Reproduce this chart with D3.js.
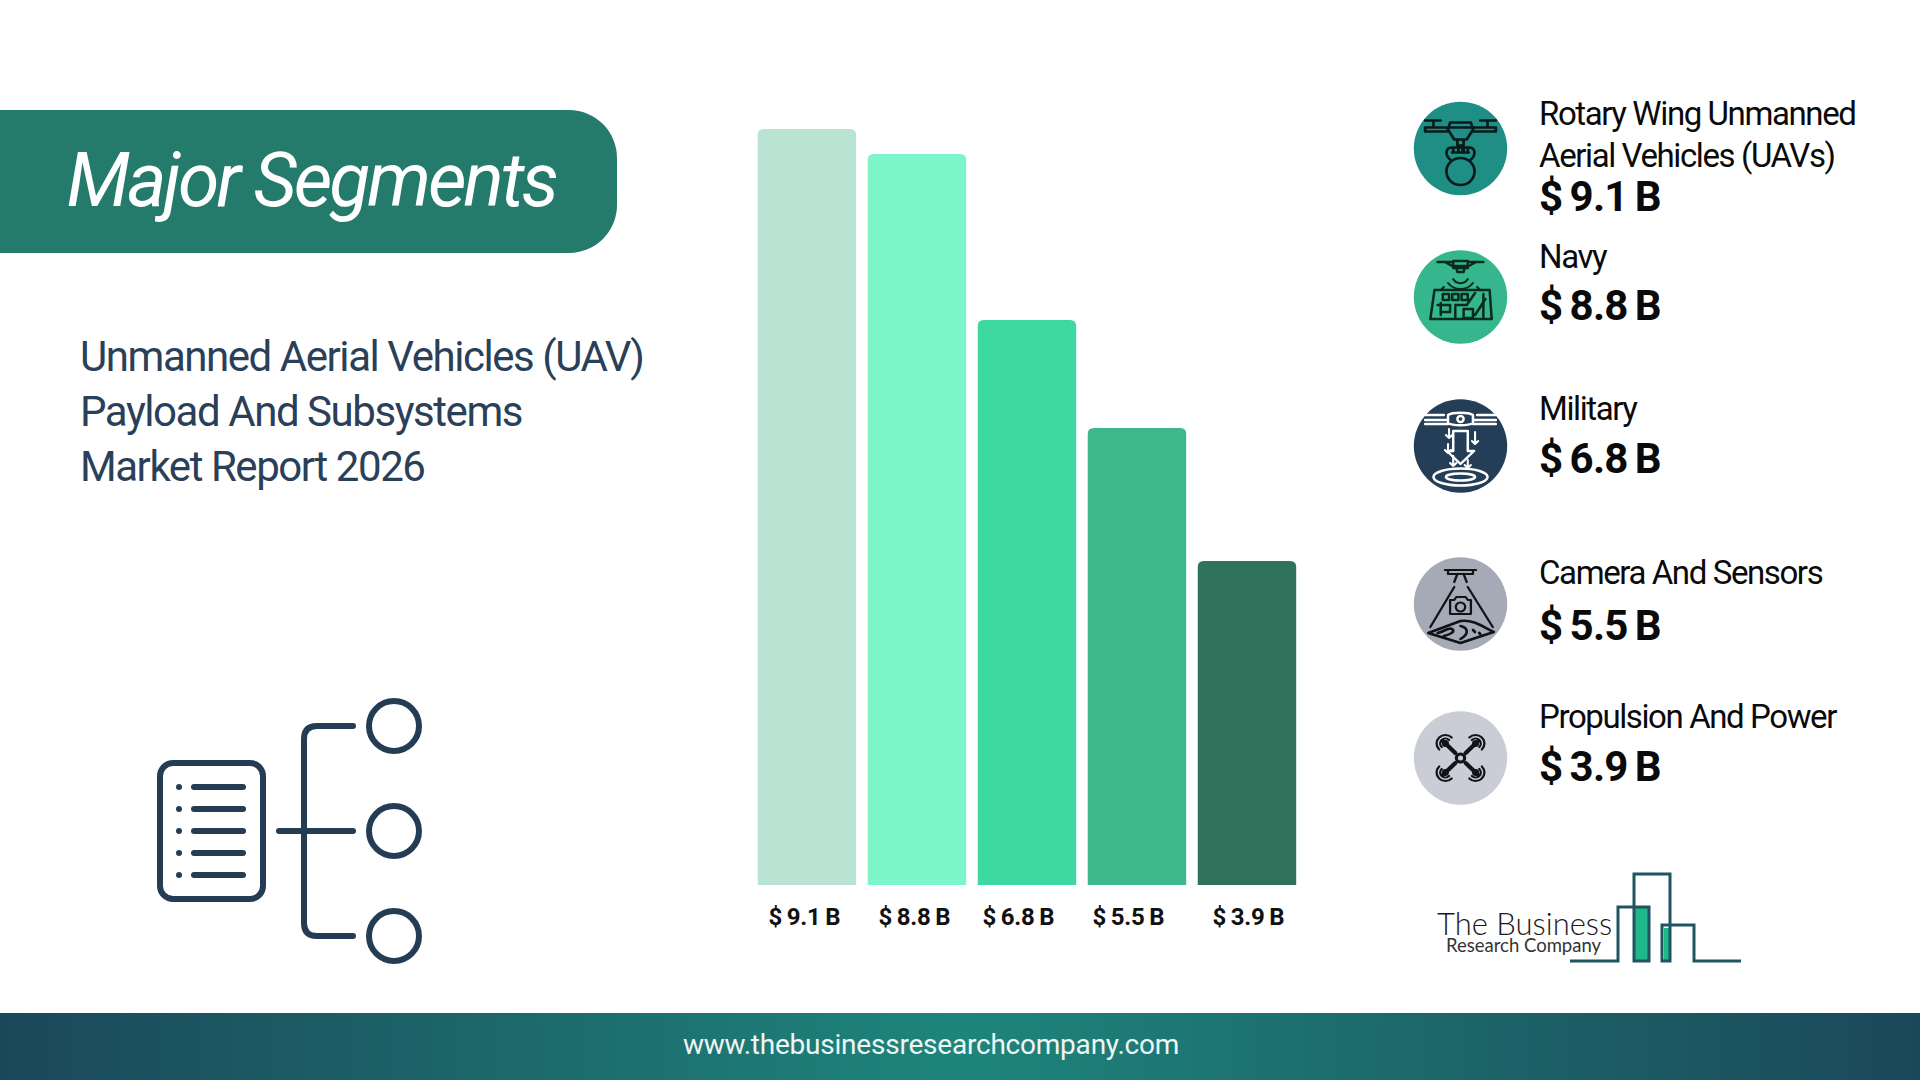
<!DOCTYPE html>
<html><head><meta charset="utf-8">
<script src="https://cdn.jsdelivr.net/npm/d3@7"></script>
<style>html,body{margin:0;padding:0;background:#fff;overflow:hidden}svg{display:block}text{font-family:Roboto,sans-serif}</style>
</head><body><svg id="c" width="1920" height="1080"></svg>
<script>
const categories = ["Rotary Wing Unmanned Aerial Vehicles (UAVs)","Navy","Military","Camera And Sensors","Propulsion And Power"];
const values = [9.1,8.8,6.8,5.5,3.9];
const barColors = ["#b9e4d3","#7cf6c8","#3ed9a0","#3eb78c","#2f735c"];
const iconColors = ["#1f8f86","#35b68d","#253e57","#a6aab6","#cacCd6"];
const labelLines = [["Rotary Wing Unmanned","Aerial Vehicles (UAVs)"],["Navy"],["Military"],["Camera And Sensors"],["Propulsion And Power"]];
const fmt = v => "$ " + v.toFixed(1) + " B";

const svg = d3.select("#c");
const defs = svg.append("defs");
function grad(id, stops, x2=1, y2=0){
  const g = defs.append("linearGradient").attr("id",id).attr("x1",0).attr("y1",0).attr("x2",x2).attr("y2",y2);
  stops.forEach(([o,c])=>g.append("stop").attr("offset",o).attr("stop-color",c));
}
grad("foot",[[0,"#1b4859"],[0.5,"#1e857c"],[1,"#1b4859"]]);

/* header */
const R=48;
svg.append("path").attr("fill","#247a6b")
  .attr("d",`M0 110H${617-R}A${R} ${R} 0 0 1 617 ${110+R}V${253-R}A${R} ${R} 0 0 1 ${617-R} 253H0Z`);
svg.append("text").attr("x",66.5).attr("y",206).attr("fill","#fff").attr("font-size",75).attr("font-style","italic").attr("font-weight",400).attr("letter-spacing",-3).text("Major Segments");

/* subtitle */
["Unmanned Aerial Vehicles (UAV)","Payload And Subsystems","Market Report 2026"].forEach((t,i)=>{
  svg.append("text").attr("x",80).attr("y",371+i*55).attr("fill","#2a4058").attr("font-size",42).attr("letter-spacing",-1.45).text(t);
});

/* footer */
svg.append("rect").attr("x",0).attr("y",1013).attr("width",1920).attr("height",67).attr("fill","url(#foot)");
svg.append("text").attr("x",931).attr("y",1054).attr("text-anchor","middle").attr("fill","#eef5f4").attr("font-size",28).attr("letter-spacing",-0.22).text("www.thebusinessresearchcompany.com");

/* bars */
const x = d3.scaleBand().domain(d3.range(values.length)).range([752.2,1301.7]).paddingInner(0.105).paddingOuter(0.05);
const y = d3.scaleLinear().domain([0,9.1]).range([885,129]);
const rr=6;
svg.append("g").selectAll("path").data(values).join("path")
  .attr("fill",(d,i)=>barColors[i])
  .attr("d",(d,i)=>{const l=x(i),w=x.bandwidth(),t=y(d),b=y(0);return `M${l} ${b}V${t+rr}Q${l} ${t} ${l+rr} ${t}H${l+w-rr}Q${l+w} ${t} ${l+w} ${t+rr}V${b}Z`;});
const labelNudge=[-2.5,-2.5,-8.5,-8.5,1.5];
svg.append("g").selectAll("text").data(values).join("text")
  .attr("x",(d,i)=>x(i)+x.bandwidth()/2+labelNudge[i]).attr("y",925)
  .attr("text-anchor","middle").attr("font-weight",700).attr("font-size",24).attr("fill","#111").attr("letter-spacing",-0.2).attr("word-spacing",-1.2).text(fmt);

/* left icon */
const navy="#243c54";
const li=svg.append("g").attr("fill","none").attr("stroke",navy).attr("stroke-width",6).attr("stroke-linecap","round");
li.append("rect").attr("x",160).attr("y",763).attr("width",103).attr("height",136).attr("rx",13);
[787,809,831,853,875].forEach(v=>{
  li.append("circle").attr("cx",179).attr("cy",v).attr("r",3).attr("fill",navy).attr("stroke","none");
  li.append("line").attr("x1",194).attr("x2",243).attr("y1",v).attr("y2",v);
});
li.append("line").attr("x1",279).attr("x2",353).attr("y1",831).attr("y2",831);
li.append("path").attr("d","M353 726H317Q304 726 304 739V923Q304 936 317 936H353");
[726,831,936].forEach(v=>li.append("circle").attr("cx",394).attr("cy",v).attr("r",25));

/* legend */
const cy=[148.5,297,446,604,758];
const cx=1460.5, tx=1539;
const labY=[[125,167],[268],[420],[584],[728]];
const valY=[210.5,320,473,639.5,780.5];
svg.append("g").selectAll("circle").data(values).join("circle").attr("cx",cx).attr("cy",(d,i)=>cy[i]).attr("r",46.7).attr("fill",(d,i)=>iconColors[i]);
labelLines.forEach((ls,i)=>{
  ls.forEach((t,j)=>svg.append("text").attr("x",tx).attr("y",labY[i][j]).attr("font-size",33).attr("fill","#0a0a0a").attr("letter-spacing",-1.4).text(t));
  svg.append("text").attr("x",tx).attr("y",valY[i]).attr("font-size",42).attr("font-weight",700).attr("fill","#0a0a0a").attr("letter-spacing",-0.75).attr("word-spacing",-2.5).text(fmt(values[i]));
});

/* icons, drawn in local pixels about each circle centre */
function ic(i,color,w=2.4){return svg.append("g").attr("transform",`translate(${cx},${cy[i]}) scale(1.04,1)`).attr("fill","none").attr("stroke",color).attr("stroke-width",w).attr("stroke-linejoin","round").attr("stroke-linecap","round");}
// 0 drone with kettlebell
let g=ic(0,"#0a1a1a",2.6);
g.append("path").attr("d","M-34 -28H-19M19 -28H34M-26 -28V-22M26 -28V-22M-34 -21H-13L-11 -17M34 -21H13L11 -17M-34 -21V-17H-12M34 -21V-17H12M-10 -26H10L12 -19L6 -9H-6L-12 -19ZM-10 -21H10M-3 -9V-3H3V-9M-2 -3L-2 2M2 -3L2 2");
g.append("circle").attr("cx",0).attr("cy",23).attr("r",13.5);
g.append("path").attr("d","M-9 12C-16 6 -14 -1 -8 -1H8C14 -1 16 6 9 12M-7 3L-7 -1M-2 3V-1M3 3V-1M7 3V-1M-8 4H8");
// 1 navy
g=ic(1,"#082a1f",2.4);
g.append("path").attr("d","M-22 -35H-8M8 -35H22M-15 -35L-8 -31H8L15 -35M-7 -36H7V-29H-7ZM-4 -29L-3 -25H3L4 -29");
g.append("path").attr("d","M-7 -18A8 8 0 0 0 7 -18M-12 -14A15 15 0 0 0 12 -14M-16 -10L-18 -8M16 -10L18 -8").attr("stroke-width",2);
g.append("path").attr("d","M-25 -7H28L30 22H-29ZM-25 -7L-29 22M-17 -3H-11V3H-17ZM-8 -3H-2V3H-8ZM1 -3H7V3H1ZM-19 6V18M-22 8H-10V15H-18M-5 8H6L14 -4M-5 10V20M3 12H12V21H3ZM22 -3V20M14 18L24 2");
// 2 military
g=ic(2,"#ffffff",2.4);
g.append("path").attr("d","M-34 -31H-16M16 -31H34M-34 -26H-12M34 -26H12M-34 -22H-12M34 -22H12M-12 -31C-8 -34 8 -34 12 -31V-23C8 -20 -8 -20 -12 -23Z");
g.append("circle").attr("cx",0).attr("cy",-27).attr("r",3);
g.append("path").attr("d","M-7 -15H7V5H13L0 18L-13 5H-7Z");
g.append("path").attr("d","M-11 -17V-8M-14 -11L-11 -8L-8 -11M14 -14V-2M11 -5L14 -2L17 -5M-12 -2V7M-15 4L-12 7L-9 4M7 14V22M4 19L7 22L10 19M-7 10V20M-10 17L-7 20L-4 17").attr("stroke-width",2);
g.append("ellipse").attr("cx",0).attr("cy",31).attr("rx",26).attr("ry",8.5);
g.append("ellipse").attr("cx",0).attr("cy",31).attr("rx",14).attr("ry",3.5);
// 3 camera
g=ic(3,"#101418",2.2);
g.append("path").attr("d","M-15 -34H15M-12 -34V-30M12 -34V-30M-12 -30H12M-6 -30H6M-3 -30L-6 -22M3 -30L6 -22");
g.append("path").attr("d","M-6 -17L-29 23M7 -17L31 23");
g.append("path").attr("d","M-10 -4H-6L-4 -7H5L7 -4H10V10H-10Z");
g.append("circle").attr("cx",0).attr("cy",3).attr("r",4.5);
g.append("path").attr("d","M-31 29L0 17C12 15 22 23 32 28L0 39ZM-22 29C-14 27 -12 23 -8 25C-4 28 -12 31 -16 32M0 22C8 24 8 30 0 35M12 26L14 28M18 29L19 30").attr("stroke-width",2.6);
// 4 quadcopter
g=ic(4,"#111418",3.4);
g.append("path").attr("d","M-5 -5L-17 -17M5 -5L17 -17M-5 5L-17 17M5 5L17 17").attr("stroke-width",4);
g.append("circle").attr("cx",0).attr("cy",0).attr("r",4).attr("fill","#cacCd6").attr("stroke-width",3);
[[-1,-1],[1,-1],[-1,1],[1,1]].forEach(([a,b])=>{
  const cxx=a*14.5, cyy=b*14.5;
  [5,8.5].forEach(r=>{
    const p=d3.arc().innerRadius(r).outerRadius(r).startAngle(0).endAngle(Math.PI);
    g.append("path").attr("transform",`translate(${cxx},${cyy}) rotate(${Math.atan2(b,a)*180/Math.PI})`).attr("d",p()).attr("stroke-width",2.2);
  });
  g.append("circle").attr("cx",cxx).attr("cy",cyy).attr("r",3.4).attr("fill","#111418").attr("stroke","none");
});

/* logo */
const lg=svg.append("g");
lg.append("rect").attr("x",1635).attr("y",908).attr("width",13).attr("height",53).attr("fill","#1fb88a");
lg.append("rect").attr("x",1664).attr("y",928).attr("width",5).attr("height",33).attr("fill","#1fb88a");
lg.append("path").attr("fill","none").attr("stroke","#1e5560").attr("stroke-width",3)
 .attr("d","M1570 961H1618V907H1649V961H1634V874H1670V961H1662V925H1694V961H1741");
lg.append("text").attr("x",1437).attr("y",935).attr("font-weight",300).attr("font-size",31).attr("fill","#1a1a1a").style("font-family","Lato").text("The Business");
lg.append("text").attr("x",1446).attr("y",952).attr("font-size",18.5).attr("font-weight",400).attr("fill","#333").style("font-family","Lato").text("Research Company");
</script></body></html>
